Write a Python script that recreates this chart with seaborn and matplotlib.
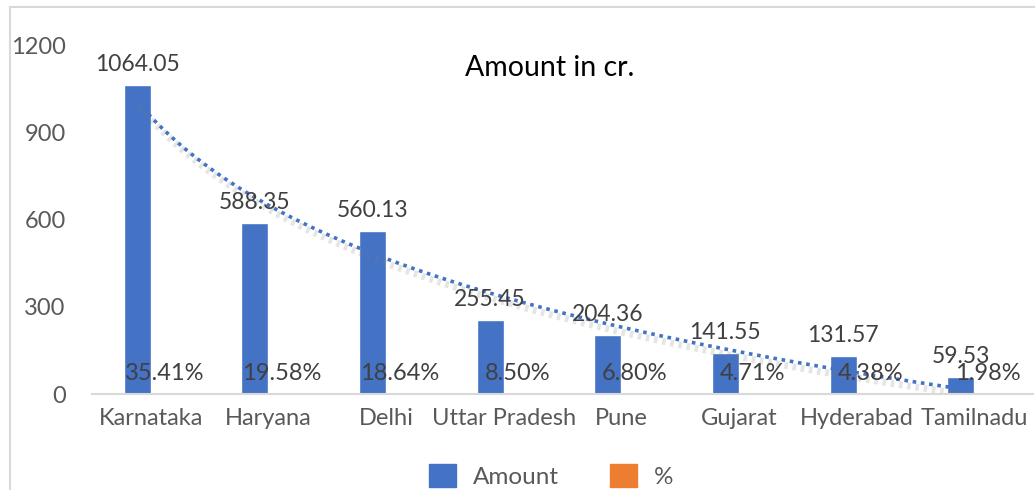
import matplotlib
matplotlib.use("Agg")
import matplotlib.pyplot as plt
import matplotlib.patheffects as pe
from matplotlib.patches import Rectangle, Patch
import numpy as np
import pandas as pd
import seaborn as sns

states = ["Karnataka", "Haryana", "Delhi", "Uttar Pradesh", "Pune",
          "Gujarat", "Hyderabad", "Tamilnadu"]
amount = [1064.05, 588.35, 560.13, 255.45, 204.36, 141.55, 131.57, 59.53]
percent = [35.41, 19.58, 18.64, 8.50, 6.80, 4.71, 4.38, 1.98]

BLUE = "#4472C4"
ORANGE = "#ED7D31"
TXT = "#595959"

# long form table: % is stored as a fraction like in the sheet, so its bars are ~0 high
df = pd.DataFrame({
    "State": states * 2,
    "Series": ["Amount"] * len(states) + ["%"] * len(states),
    "Value": amount + [p / 100 for p in percent],
})

sns.set_style("white")
plt.rcParams["font.family"] = ["Lato", "DejaVu Sans"]

fig = plt.figure(figsize=(10.35, 4.9), dpi=100)
ax = fig.add_axes([92 / 1035, 1 - 394 / 490, 941 / 1035, 349 / 490])

sns.barplot(data=df, x="State", y="Value", hue="Series", order=states,
            hue_order=["Amount", "%"], palette=[BLUE, ORANGE], width=0.46,
            saturation=1, ax=ax, legend=False)

# data labels
amt_bars, pct_bars = ax.containers[0], ax.containers[1]
ax.bar_label(amt_bars, labels=[f"{v:.2f}" for v in amount], padding=7,
             fontsize=16.5, color="#404040")
ax.bar_label(pct_bars, labels=[f"{v:.2f}%" for v in percent], padding=7,
             fontsize=17, color="#404040")

# logarithmic trendline for Amount (like the Excel one)
x_idx = np.arange(1, len(amount) + 1)
b, a = np.polyfit(np.log(x_idx), amount, 1)
xs = np.linspace(1, len(amount), 200)
centers = [r.get_x() + r.get_width() / 2 for r in amt_bars]
xs_plot = np.interp(xs, x_idx, centers)
ax.plot(xs_plot, a + b * np.log(xs), color=BLUE, lw=2.6,
        linestyle=(0, (1, 1.3)),
        path_effects=[pe.SimpleLineShadow(offset=(2, -4), shadow_color="gray",
                                          alpha=0.2, linewidth=5),
                      pe.Normal()])

ax.set_ylim(0, 1200)
ax.set_xlim(-0.5, len(states) - 0.5)
ax.set_yticks([0, 300, 600, 900, 1200])
ax.tick_params(axis="y", labelsize=17, labelcolor=TXT, pad=19, length=0)
ax.tick_params(axis="x", labelsize=17, labelcolor=TXT, pad=10, length=0)
ax.set_xlabel("")
ax.set_ylabel("")
for s in ["top", "right", "left"]:
    ax.spines[s].set_visible(False)
ax.spines["bottom"].set_color("#D9D9D9")
ax.spines["bottom"].set_linewidth(1.5)

fig.text(550 / 1035, 1 - 68 / 490, "Amount in cr.", ha="center", va="center",
         fontsize=20.5, color="black")

handles = [Patch(color=BLUE, label="Amount"), Patch(color=ORANGE, label="%")]
fig.legend(handles=handles, loc="center", bbox_to_anchor=(551 / 1035, 1 - 476 / 490),
           ncol=2, frameon=False, fontsize=17.5, labelcolor=TXT,
           handlelength=1.1, handleheight=1.1, columnspacing=2.1,
           handletextpad=0.7)

# chart area border
fig.patches.append(Rectangle((10 / 1035, -0.1), 1.2, 1.1 - 7 / 490,
                             transform=fig.transFigure, fill=False,
                             edgecolor="#D9D9D9", lw=1.5))

fig.savefig("out.png", dpi=100)
